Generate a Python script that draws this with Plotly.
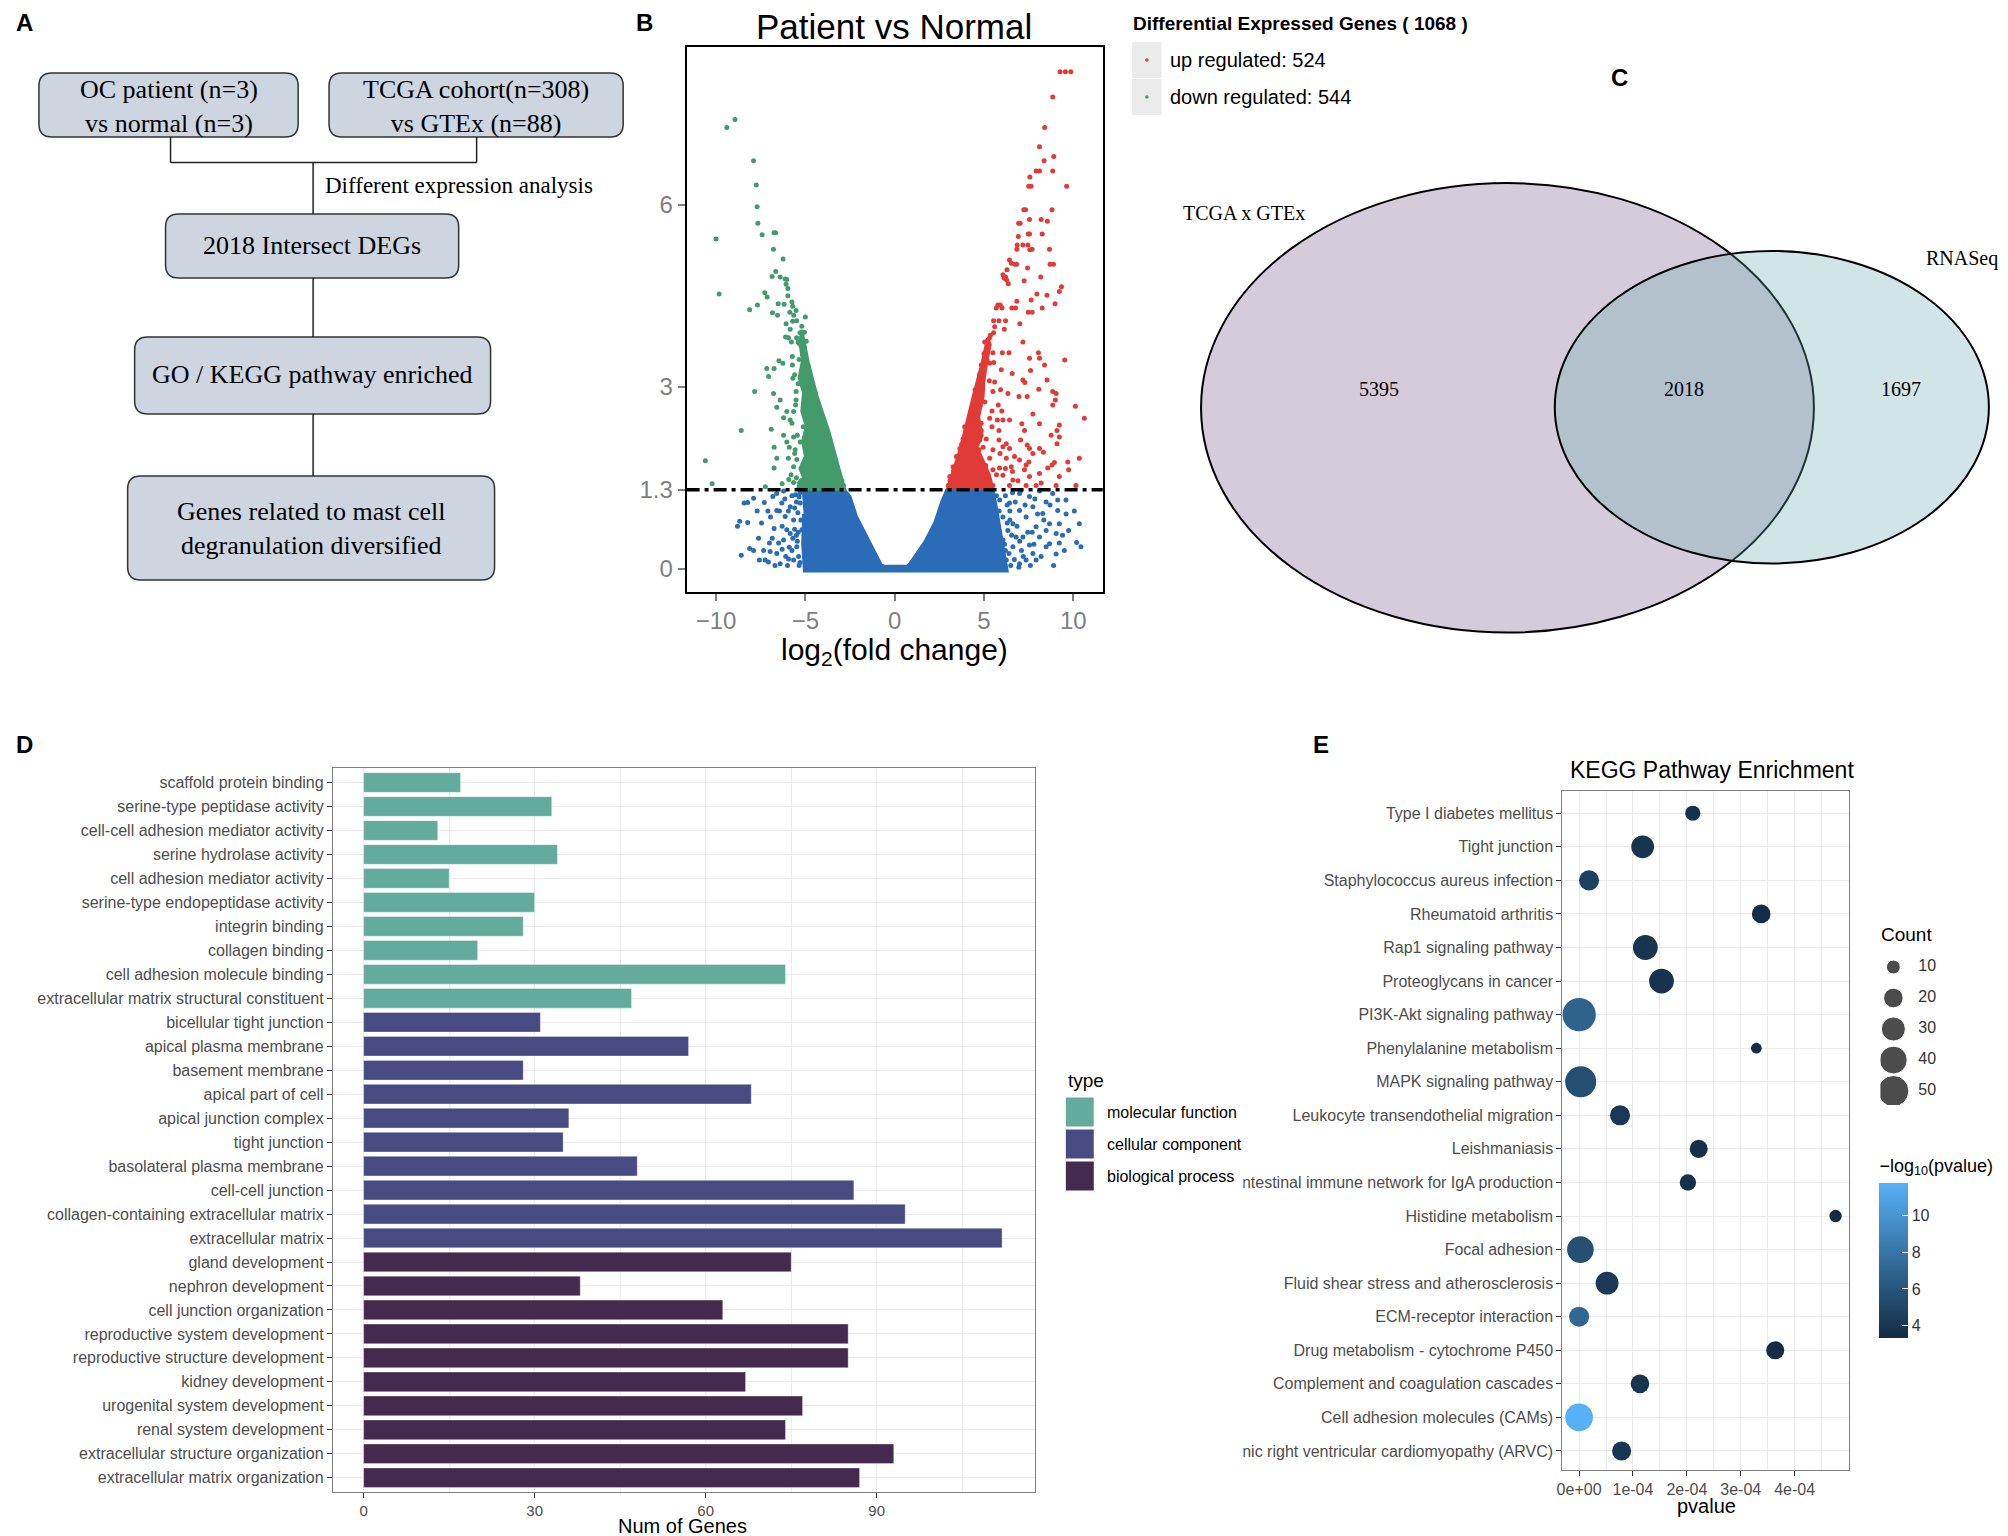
import math
import plotly.graph_objects as go

W, H = 2008, 1536
OFF = 8  # page body margin of the browser
SANS = "Liberation Sans, Arial, sans-serif"
SERIF = "Liberation Serif, Times New Roman, serif"

# ---------------- Panel B: volcano data ----------------
down_x = [-8.94,-9.40,-7.90,-7.75,-7.70,-7.66,-7.42,-6.75,-6.67,-10.0,-6.79,-6.25,-6.66,-6.86,-6.41,-6.13,-6.04,-6.08,-5.98,-9.83,
          -7.27,-7.14,-5.98,-7.68,-8.12,-6.52,-6.19,-5.75,-5.71,-5.87,-5.52,-5.65,-6.84,-6.56,-6.08,-5.71,-5.49,-5.85,-5.30,-6.11,
          -5.94,-5.49,-5.21,-5.78,-5.40,-5.25,-5.36,-5.73,-5.17,-5.08,-7.16,-6.75,-6.48,-6.26,-5.72,-7.06,-5.70,-4.91,-4.72,-7.84,
          -6.78,-5.52,-4.57,-6.41,-5.52,-4.44,-6.60,-6.04,-5.66,-4.34,-6.22,-4.15,-5.85,-8.59,-6.91,-5.12,-4.05,-6.22,-5.66,-4.92,
          -3.88,-6.04,-5.29,-4.54,-3.80,-6.75,-5.57,-4.92,-4.18,-3.71,-10.6,-6.60,-5.95,-5.48,-4.92,-4.27,-3.45,-6.75,-5.66,-5.10,
          -4.45,-3.80,-3.24,-10.22,-7.24,-6.30,-5.93,-5.66,-5.24,-4.73,-4.18,-3.62,-3.06,-2.87,
          -2.95,-3.20,-3.45,-3.70,-3.95,-4.20,-4.45,-4.65,-4.85,-5.05,-5.50,-5.60,-5.45,-5.55,-5.40,-5.35,-5.60,-5.75,-5.90,-5.80,
          -5.15,-5.05,-4.95,-5.20,-5.00]
down_y = [7.41,7.28,6.73,6.33,5.97,5.70,5.51,5.54,5.54,5.44,5.27,5.11,4.90,4.82,4.81,4.78,4.77,4.69,4.62,4.53,
          4.55,4.48,4.50,4.35,4.27,4.37,4.36,4.40,4.33,4.23,4.26,4.18,4.22,4.18,4.04,4.08,4.09,3.95,3.89,3.82,
          3.81,3.81,3.81,3.74,3.74,3.69,3.72,3.50,3.53,3.39,3.30,3.30,3.43,3.39,3.36,3.17,3.14,3.17,3.06,2.92,
          2.89,2.92,2.86,2.78,2.78,2.75,2.66,2.59,2.59,2.61,2.49,2.49,2.45,2.28,2.30,2.34,2.34,2.20,2.17,2.23,
          2.23,2.09,2.09,2.12,2.12,2.00,1.96,1.98,1.96,2.01,1.78,1.82,1.82,1.80,1.85,1.82,1.85,1.66,1.68,1.63,
          1.68,1.63,1.68,1.40,1.35,1.40,1.47,1.42,1.45,1.43,1.50,1.43,1.48,1.37,
          1.45,1.62,1.88,2.10,2.38,2.60,2.90,3.05,3.35,3.65,1.50,1.90,2.20,2.70,3.05,3.45,3.20,2.40,2.00,1.55,
          3.60,3.90,3.75,4.00,4.15]
down_core_x = [-5.5,-2.8,-3.7,-4.34,-4.83,-5.2,-5.3,-5.15,-5.35,-5.1,-5.2,-4.95,-5.15,-5.0,-5.3,-5.1,-5.45]
down_core_y = [1.31,1.31,2.28,2.84,3.39,3.94,3.7,3.45,3.15,2.9,2.6,2.35,2.1,1.85,1.65,1.5,1.4]

up_x = [9.26,9.56,9.86,8.85,8.40,8.11,8.91,8.37,7.92,8.11,8.85,7.57,7.51,7.64,9.63,7.23,7.33,8.81,6.94,7.03,
        7.55,8.20,8.55,7.48,7.55,8.26,6.92,6.86,7.18,7.46,6.84,7.57,7.70,8.67,6.43,6.53,6.73,6.83,7.44,8.70,
        8.89,6.29,6.06,6.14,6.27,6.36,6.21,7.25,8.18,9.34,9.22,7.96,8.53,7.64,6.84,8.98,5.78,5.91,5.69,6.01,
        6.56,6.77,8.26,7.48,7.70,5.54,5.84,6.21,7.01,5.60,6.14,5.54,5.36,5.30,5.04,7.18,
        5.50,6.03,6.40,7.55,8.11,8.05,9.52,4.85,5.32,5.17,8.39,5.97,6.58,7.61,4.85,5.60,7.18,7.29,8.53,4.72,
        5.50,5.93,6.34,8.07,8.85,9.04,4.58,4.67,6.96,7.42,4.39,4.80,5.80,8.85,9.00,10.12,4.24,4.39,5.32,6.06,
        6.43,10.62,7.74,3.92,4.11,4.85,5.45,5.84,7.12,7.27,8.11,9.22,9.09,3.83,4.48,4.76,5.13,5.84,6.25,6.43,
        7.05,7.42,8.76,9.09,9.22,3.65,4.20,4.72,5.50,6.06,6.71,7.55,7.74,8.11,8.33,3.46,3.92,4.54,5.32,6.25,
        6.99,7.36,7.51,8.81,8.94,9.69,10.34,3.27,3.65,4.20,4.85,5.50,5.87,6.53,7.27,8.11,8.57,9.22,9.74,3.09,
        3.65,4.58,5.32,6.06,6.62,7.55,8.20,3.00,3.92,4.76,5.50,6.43,7.36,7.92,9.04,10.15,
        3.10,3.30,3.55,3.75,4.00,4.30,4.50,4.75,5.00,5.20,5.25,5.10,4.95,4.85,5.05,5.30,5.55,5.70,5.90,6.20,
        6.60,6.90,5.75,6.00,5.45]
up_y = [8.20,8.20,8.20,7.78,7.28,6.96,6.80,6.73,6.56,6.56,6.56,6.46,6.31,6.31,6.31,5.92,5.92,5.92,5.70,5.70,
        5.76,5.76,5.73,5.52,5.52,5.52,5.48,5.34,5.34,5.34,5.27,5.26,5.27,5.27,5.09,5.04,5.02,5.02,4.96,5.02,
        5.02,4.93,4.85,4.79,4.76,4.70,4.81,4.75,4.81,4.65,4.57,4.53,4.51,4.43,4.41,4.37,4.35,4.35,4.30,4.30,
        4.30,4.30,4.30,4.23,4.23,4.09,4.09,4.09,4.04,3.99,3.95,3.89,3.85,3.80,3.74,3.74,
        3.56,3.56,3.56,3.47,3.47,3.56,3.44,3.36,3.39,3.44,3.36,3.28,3.22,3.27,3.11,3.08,3.11,3.07,3.11,2.97,
        2.92,2.95,2.89,2.96,2.92,2.89,2.84,2.78,2.84,2.84,2.67,2.70,2.70,2.70,2.78,2.68,2.51,2.43,2.48,2.45,
        2.45,2.48,2.55,2.34,2.28,2.28,2.34,2.28,2.39,2.28,2.39,2.37,2.28,2.14,2.17,2.12,2.14,2.12,2.06,1.98,
        2.12,2.04,2.20,2.06,2.17,1.98,1.98,1.96,1.96,2.01,1.85,1.98,1.90,1.98,1.92,1.85,1.79,1.82,1.82,1.82,
        1.79,1.71,1.76,1.71,1.75,1.76,1.82,1.68,1.68,1.63,1.71,1.63,1.66,1.68,1.63,1.57,1.66,1.52,1.63,1.52,
        1.46,1.52,1.46,1.54,1.46,1.52,1.41,1.37,1.37,1.37,1.37,1.37,1.37,1.37,1.37,1.37,
        1.45,1.62,1.85,2.05,2.30,2.55,2.95,3.20,3.55,3.75,1.45,1.70,2.00,2.40,2.75,3.10,3.40,1.55,1.90,1.65,
        1.60,1.45,2.45,2.60,2.60]
up_core_x = [2.95,3.7,4.4,4.9,5.2,5.35,5.15,5.0,4.95,4.7,4.9,4.6,5.0,5.3,5.5]
up_core_y = [1.31,2.0,2.84,3.4,3.8,3.7,3.4,3.1,2.84,2.5,2.2,2.0,1.75,1.55,1.31]

ns_x = [-8.23,-7.90,-7.30,-8.68,-8.23,-7.62,-8.12,-8.59,-7.57,-7.25,-7.07,-7.01,-6.75,-6.60,-6.60,-6.22,-6.32,-6.13,-6.04,-6.22,
        -6.60,-6.41,-5.85,-5.66,-5.85,-5.48,-5.66,-5.29,-5.20,-5.94,-6.97,-6.50,-7.34,-6.82,-8.43,-8.8,-5.55,-5.75,-5.42,-5.38,
        -6.95,-7.45,-5.35,-5.5,-5.3,-5.6,
        -5.3,-5.45,-5.6,-5.25,-5.5,-5.9,-6.1,-5.75,-6.3,-6.45,-5.95,-6.15,-5.35,-5.7,-6.0,-5.4,-6.7,-6.85,-7.1,-7.7,-7.9,-6.3,
        10.06,10.34,9.74,10.19,10.43,9.50,9.04,9.22,9.04,8.67,9.13,9.13,8.85,8.48,8.29,7.92,8.11,8.48,7.74,7.36,
        7.92,6.99,8.11,7.55,6.99,7.36,6.62,7.18,6.62,6.25,6.43,6.99,7.74,8.48,8.67,9.59,9.22,6.34,6.06,6.80,
        7.55,6.06,5.88,6.6,7.1,8.0,8.9,9.6,6.5,7.7,5.7,5.85,6.2,6.45,6.3,
        6.4,6.55,6.7,6.85,7.0,7.2,6.45,6.75,7.3,7.45,7.6,7.8,8.2,8.35,6.2,6.3,7.05,7.85,8.7,9.4,6.95,6.15]
ns_y = [1.09,1.16,1.09,0.78,0.76,0.50,0.33,0.22,0.14,0.14,0.11,0.42,0.66,0.96,1.24,1.28,1.08,0.86,0.64,0.47,
        0.25,0.08,1.02,0.80,0.58,0.36,0.14,1.08,0.64,0.16,0.28,0.42,0.30,1.19,1.08,0.7,1.22,0.30,0.92,0.20,
        0.85,0.75,0.05,0.55,1.25,1.0,
        0.1,0.45,0.65,0.8,1.1,0.35,0.2,1.2,0.7,0.95,0.95,1.15,1.18,0.5,0.05,0.6,0.05,0.5,0.95,0.95,0.3,0.32,
        0.95,0.74,0.63,0.43,0.36,0.30,0.24,0.42,0.58,0.74,0.96,1.13,1.24,1.10,0.91,0.69,0.52,0.36,0.25,0.14,
        0.14,0.08,1.28,1.19,0.96,0.85,0.74,0.52,0.36,0.14,1.08,1.24,1.02,0.63,0.41,1.13,0.74,0.63,0.47,0.52,
        0.39,0.85,1.13,1.25,0.3,0.9,0.05,0.9,0.05,0.6,1.2,0.95,0.3,0.8,1.05,
        0.25,0.55,0.15,0.7,0.45,0.2,0.95,1.1,1.05,0.6,0.05,0.4,0.2,0.8,1.2,0.75,1.28,1.15,1.05,0.55,0.02,0.4]
ns_core_x = [-5.2,-2.82,-2.5,-2.14,-1.76,-1.39,-1.02,-0.75,-0.6,0.7,0.85,1.04,1.69,2.25,2.62,2.92,5.5,5.7,6.0,6.2,6.3,-5.05,-5.15,-5.1]
ns_core_y = [1.30,1.30,1.19,0.86,0.64,0.42,0.20,0.06,0.04,0.04,0.08,0.16,0.44,0.76,1.09,1.30,1.30,1.0,0.5,0.1,-0.04,-0.04,0.4,0.9]

up_count, down_count = 524, 544
volcano_threshold = 1.3

# ---------------- Panel C: venn ----------------
venn_labels = ["TCGA x GTEx", "RNASeq"]
venn_values = [5395, 2018, 1697]

# ---------------- Panel D: GO data ----------------
go_terms = ["scaffold protein binding","serine-type peptidase activity","cell-cell adhesion mediator activity",
            "serine hydrolase activity","cell adhesion mediator activity","serine-type endopeptidase activity",
            "integrin binding","collagen binding","cell adhesion molecule binding",
            "extracellular matrix structural constituent","bicellular tight junction","apical plasma membrane",
            "basement membrane","apical part of cell","apical junction complex","tight junction",
            "basolateral plasma membrane","cell-cell junction","collagen-containing extracellular matrix",
            "extracellular matrix","gland development","nephron development","cell junction organization",
            "reproductive system development","reproductive structure development","kidney development",
            "urogenital system development","renal system development","extracellular structure organization",
            "extracellular matrix organization"]
go_counts = [17,33,13,34,15,30,28,20,74,47,31,57,28,68,36,35,48,86,95,112,75,38,63,85,85,67,77,74,93,87]
go_types = ["molecular function"]*10 + ["cellular component"]*10 + ["biological process"]*10
go_type_names = ["molecular function","cellular component","biological process"]
go_type_colors = ["#63ab9b","#474b82","#432a4e"]

# ---------------- Panel E: KEGG data ----------------
kegg_terms = ["Type I diabetes mellitus","Tight junction","Staphylococcus aureus infection","Rheumatoid arthritis",
              "Rap1 signaling pathway","Proteoglycans in cancer","PI3K-Akt signaling pathway","Phenylalanine metabolism",
              "MAPK signaling pathway","Leukocyte transendothelial migration","Leishmaniasis",
              "Intestinal immune network for IgA production","Histidine metabolism","Focal adhesion",
              "Fluid shear stress and atherosclerosis","ECM-receptor interaction","Drug metabolism - cytochrome P450",
              "Complement and coagulation cascades","Cell adhesion molecules (CAMs)",
              "Arrhythmogenic right ventricular cardiomyopathy (ARVC)"]
kegg_pvalue = [2.11e-4,1.18e-4,1.85e-5,3.38e-4,1.23e-4,1.53e-4,1.5e-7,3.29e-4,3e-6,7.6e-5,2.22e-4,2.02e-4,
               4.76e-4,2.5e-6,5.2e-5,8e-8,3.64e-4,1.13e-4,1.6e-12,7.9e-5]
kegg_count = [12,27,21,18,32,32,58,6,50,21,17,14,8,37,27,21,17,18,40,19]
count_breaks = [10,20,30,40,50]
color_ticks = [4,6,8,10]

GREEN, RED, BLUE = "#439b6c", "#e03b36", "#2b6cb8"


def px(x):
    return (x - OFF) / W


def py(y):
    return 1 - (y - OFF) / H


fig = go.Figure()

# volcano
for cx, cy, col in [(ns_core_x, ns_core_y, BLUE), (down_core_x, down_core_y, GREEN), (up_core_x, up_core_y, RED)]:
    fig.add_trace(go.Scatter(x=cx, y=cy, mode="lines", fill="toself", fillcolor=col,
                             line=dict(color=col, width=3), xaxis="x", yaxis="y",
                             hoverinfo="skip", showlegend=False))
for sx, sy, col in [(ns_x, ns_y, BLUE), (down_x, down_y, GREEN), (up_x, up_y, RED)]:
    fig.add_trace(go.Scatter(x=sx, y=sy, mode="markers", marker=dict(color=col, size=5),
                             xaxis="x", yaxis="y", showlegend=False))

# GO bars
for tname, tcol in zip(go_type_names, go_type_colors):
    xs = [c for c, t in zip(go_counts, go_types) if t == tname]
    ys = [g for g, t in zip(go_terms, go_types) if t == tname]
    fig.add_trace(go.Bar(x=xs, y=ys, orientation="h", width=0.82,
                         marker=dict(color=tcol, line=dict(color="rgba(255,255,255,0.6)", width=0.6)),
                         xaxis="x2", yaxis="y2", showlegend=False, name=tname))

# KEGG dots
neglog = [-math.log10(p) for p in kegg_pvalue]
SIZEREF = 1 / 3.1 ** 2
fig.add_trace(go.Scatter(
    x=kegg_pvalue, y=kegg_terms, mode="markers", xaxis="x3", yaxis="y3", showlegend=False,
    marker=dict(size=kegg_count, sizemode="area", sizeref=SIZEREF, color=neglog, opacity=1,
                colorscale=[[0, "#132B43"], [1, "#56B1F7"]], cmin=min(neglog), cmax=max(neglog),
                line=dict(width=0),
                colorbar=dict(x=px(1879), xanchor="left", y=py(1155), yanchor="top", ypad=0, xpad=0,
                              len=183 / H, lenmode="fraction", thickness=29, thicknessmode="pixels",
                              outlinewidth=0, tickvals=color_ticks, ticks="inside", ticklen=6,
                              tickcolor="white", tickwidth=1.2, tickfont=dict(size=16, color="#333", family=SANS),
                              title=dict(text="\u2212log<sub>10</sub>(pvalue)", side="top",
                                         font=dict(size=18, color="black", family=SANS))))))

# Count legend
fig.add_trace(go.Scatter(x=[0]*len(count_breaks), y=count_breaks, mode="markers", xaxis="x4", yaxis="y4",
                         marker=dict(size=count_breaks, sizemode="area", sizeref=SIZEREF, color="black"),
                         showlegend=False, hoverinfo="skip"))
fig.add_trace(go.Scatter(x=[25]*len(count_breaks), y=count_breaks, mode="text",
                         text=[str(c) for c in count_breaks], textposition="middle right",
                         textfont=dict(size=16, color="#333", family=SANS), xaxis="x4", yaxis="y4",
                         showlegend=False, hoverinfo="skip"))

shapes = []
annotations = []


def ann(text, x, y, size, family=SANS, color="black", xanchor="center", yanchor="middle"):
    annotations.append(dict(text=text, x=px(x), y=py(y), xref="paper", yref="paper", showarrow=False,
                            xanchor=xanchor, yanchor=yanchor, font=dict(size=size, family=family, color=color)))


def rbox(x0, y0, x1, y1, r=13, fill="#cdd5e0"):
    X0, X1 = px(x0), px(x1)
    Y0, Y1 = py(y0), py(y1)
    rx, ry = r / W, r / H
    path = (f"M {X0+rx},{Y0} L {X1-rx},{Y0} Q {X1},{Y0} {X1},{Y0-ry} L {X1},{Y1+ry} Q {X1},{Y1} {X1-rx},{Y1} "
            f"L {X0+rx},{Y1} Q {X0},{Y1} {X0},{Y1+ry} L {X0},{Y0-ry} Q {X0},{Y0} {X0+rx},{Y0} Z")
    shapes.append(dict(type="path", path=path, xref="paper", yref="paper", fillcolor=fill,
                       line=dict(color="#333333", width=1.5)))


def pline(x0, y0, x1, y1, color="#222", width=1.5):
    shapes.append(dict(type="line", x0=px(x0), y0=py(y0), x1=px(x1), y1=py(y1), xref="paper", yref="paper",
                       line=dict(color=color, width=width)))


# ---------------- Panel A flowchart ----------------
rbox(33, 73, 293, 137)
rbox(324, 73, 619, 137)
rbox(160, 214, 454, 278)
rbox(129, 337, 486, 414)
rbox(122, 476, 490, 580)
pline(165, 137, 165, 162.6)
pline(165, 162.6, 472, 162.6)
pline(472, 137, 472, 162.6)
pline(308, 162.6, 308, 214)
pline(308, 278, 308, 337)
pline(308, 414, 308, 476)
ann("OC patient (n=3)<br>vs normal (n=3)", 163, 106, 26, SERIF)
ann("TCGA cohort(n=308)<br>vs GTEx (n=88)", 471.5, 106, 26, SERIF)
ann("Different expression analysis", 318, 186, 23, SERIF, xanchor="left")
ann("2018 Intersect DEGs", 307, 246, 26, SERIF)
ann("GO / KEGG pathway enriched", 307.5, 375, 26, SERIF)
ann("Genes related to mast cell<br>degranulation diversified", 306, 529, 26, SERIF)

# ---------------- Panel B extras ----------------
shapes.append(dict(type="line", xref="x domain", yref="y", x0=0, x1=1, y0=volcano_threshold, y1=volcano_threshold,
                   line=dict(color="black", width=3.5, dash="13px,5px,4px,5px"), layer="above"))
ann("Patient vs Normal", 891, 27, 35)
ann("log<sub>2</sub>(fold change)", 891, 652, 30)
ann("<b>Differential Expressed Genes ( %d )</b>" % (up_count + down_count), 1128, 24, 19, xanchor="left")
for yy, col, txt in [(60, RED, "up regulated: %d" % up_count), (97, GREEN, "down regulated: %d" % down_count)]:
    shapes.append(dict(type="rect", xref="paper", yref="paper", x0=px(1129.5), x1=px(1159), y0=py(yy - 18),
                       y1=py(yy + 18), fillcolor="#ebebeb", line=dict(width=0)))
    shapes.append(dict(type="circle", xref="paper", yref="paper", x0=px(1142.5), x1=px(1146), y0=py(yy - 1.75),
                       y1=py(yy + 1.75), fillcolor=col, line=dict(width=0)))
    ann(txt, 1165, yy, 20, xanchor="left")

# ---------------- Panel C venn ----------------
shapes.append(dict(type="circle", xref="paper", yref="paper", x0=px(1198.6), x1=px(1813.3), y0=py(632.6), y1=py(183.1),
                   fillcolor="#d5ccdb", line=dict(color="black", width=2)))
shapes.append(dict(type="circle", xref="paper", yref="paper", x0=px(1553.4), x1=px(1988.8), y0=py(563.5), y1=py(251),
                   fillcolor="rgba(102,168,172,0.30)", line=dict(color="black", width=2)))
ann(venn_labels[0], 1241.5, 212.6, 20, SERIF)
ann(venn_labels[1], 1962, 258.7, 20, SERIF)
ann(str(venn_values[0]), 1376.6, 389.3, 20, SERIF)
ann(str(venn_values[1]), 1682.7, 389.3, 20, SERIF)
ann(str(venn_values[2]), 1900.4, 389.3, 20, SERIF)

# ---------------- Panel D extras ----------------
ann("Num of Genes", 678.7, 1526, 20)
ann("type", 1063, 1080, 19, xanchor="left")
for i, (tname, tcol) in enumerate(zip(go_type_names, go_type_colors)):
    y0 = 1097.5 + i * 32
    shapes.append(dict(type="rect", xref="paper", yref="paper", x0=px(1063), x1=px(1091), y0=py(y0 + 29),
                       y1=py(y0), fillcolor=tcol, line=dict(width=0)))
    ann(tname, 1102.6, y0 + 15, 16, xanchor="left")

# ---------------- Panel E extras ----------------
ann("KEGG Pathway Enrichment", 1711, 770, 23)
ann("pvalue", 1706, 1506, 20)
ann("Count", 1879, 934, 19, xanchor="left")
# clipping of long labels at panel edge
shapes.append(dict(type="rect", xref="paper", yref="paper", x0=px(1100), x1=px(1241), y0=py(1466), y1=py(1436),
                   fillcolor="white", line=dict(width=0), layer="above"))
shapes.append(dict(type="rect", xref="paper", yref="paper", x0=px(1231), x1=px(1241), y0=py(1196), y1=py(1170),
                   fillcolor="white", line=dict(width=0), layer="above"))

# panel letters
for letter, x, y in [("A", 8, 22), ("B", 630, 22), ("C", 1608, 77), ("D", 8, 745), ("E", 1309, 745)]:
    ann("<b>%s</b>" % letter, x, y, 24, xanchor="left")

GRID = "#ebebeb"
layout = dict(
    width=W, height=H, margin=dict(l=0, r=0, t=0, b=0), paper_bgcolor="white",
    plot_bgcolor="rgba(0,0,0,0)", showlegend=False, font=dict(family=SANS),
    xaxis=dict(domain=[px(682.6), px(1100)], range=[-11.65, 11.65], tickvals=[-10, -5, 0, 5, 10],
               ticks="outside", ticklen=7, tickwidth=1.5, tickcolor="#7f7f7f",
               tickfont=dict(size=24, color="#7f7f7f"), showline=True, linecolor="black", linewidth=2,
               mirror=True, showgrid=False, zeroline=False, anchor="y"),
    yaxis=dict(domain=[py(591.6), py(47.4)], range=[-0.38, 8.6], tickvals=[0, 1.3, 3, 6],
               ticktext=["0", "1.3", "3", "6"], ticks="outside", ticklen=7, tickwidth=1.5, tickcolor="#7f7f7f",
               tickfont=dict(size=24, color="#7f7f7f"), showline=True, linecolor="black", linewidth=2,
               mirror=True, showgrid=False, zeroline=False, anchor="x"),
    xaxis2=dict(domain=[px(327.8), px(1032.2)], range=[-5.4, 117.8], tickvals=[0, 30, 60, 90],
                ticks="outside", ticklen=5, tickcolor="#333", tickfont=dict(size=15, color="#4d4d4d"),
                showgrid=True, gridcolor=GRID, gridwidth=1.4,
                minor=dict(dtick=15, tick0=0, showgrid=True, gridcolor=GRID, gridwidth=0.8),
                showline=True, linecolor="#7f7f7f", linewidth=1, mirror=True, zeroline=False, anchor="y2"),
    yaxis2=dict(domain=[py(1491.9), py(768.4)], type="category", categoryorder="array", categoryarray=go_terms,
                range=[29.59, -0.59], ticks="outside", ticklen=5, tickcolor="#333",
                tickfont=dict(size=16, color="#4d4d4d"), showgrid=True, gridcolor=GRID, gridwidth=1.4,
                showline=True, linecolor="#7f7f7f", linewidth=1, mirror=True, zeroline=False, anchor="x2"),
    xaxis3=dict(domain=[px(1561), px(1848)], range=[-0.31e-4, 5.0e-4], tickvals=[0, 1e-4, 2e-4, 3e-4, 4e-4],
                ticktext=["0e+00", "1e-04", "2e-04", "3e-04", "4e-04"], ticks="outside", ticklen=5,
                tickcolor="#333", tickfont=dict(size=16, color="#4d4d4d"), showgrid=True, gridcolor=GRID,
                gridwidth=1.4, minor=dict(dtick=0.5e-4, tick0=0, showgrid=True, gridcolor=GRID, gridwidth=0.8),
                showline=True, linecolor="#7f7f7f", linewidth=1, mirror=True, zeroline=False, anchor="y3"),
    yaxis3=dict(domain=[py(1470.1), py(791.4)], type="category", categoryorder="array", categoryarray=kegg_terms,
                range=[19.57, -0.65], ticks="outside", ticklen=5, tickcolor="#333",
                tickfont=dict(size=16, color="#4d4d4d"), showgrid=True, gridcolor=GRID, gridwidth=1.4,
                showline=True, linecolor="#7f7f7f", linewidth=1, mirror=True, zeroline=False, anchor="x3"),
    xaxis4=dict(domain=[px(1880), px(1990)], range=[-13, 97], visible=False, anchor="y4"),
    yaxis4=dict(domain=[py(1105), py(955)], range=[54.5, 6.13], visible=False, anchor="x4"),
    shapes=shapes, annotations=annotations,
)
fig.update_layout(**layout)
fig.write_html("out.html")
